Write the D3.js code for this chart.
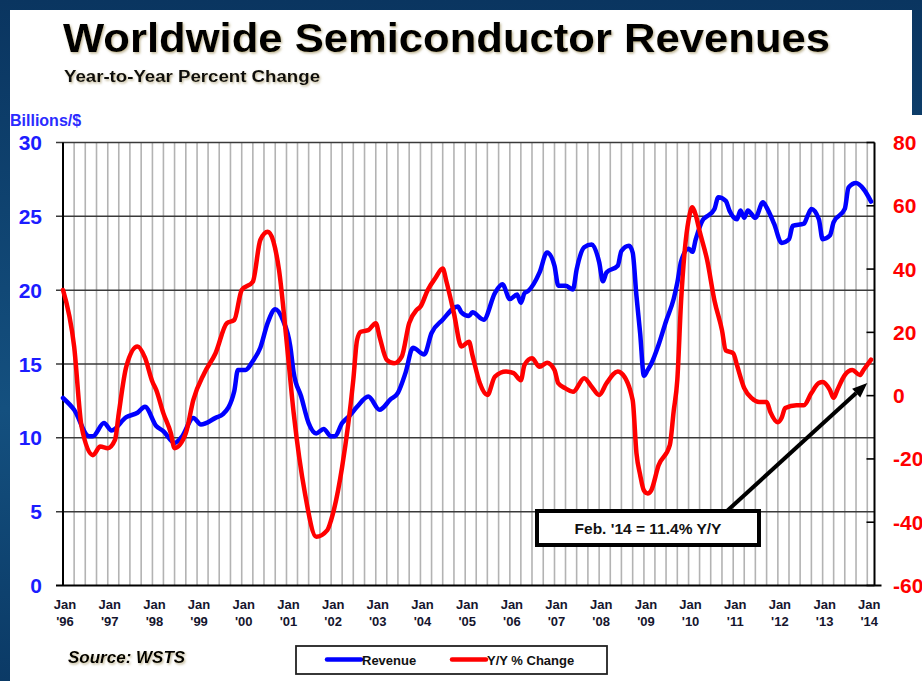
<!DOCTYPE html>
<html><head><meta charset="utf-8">
<script src="https://cdn.jsdelivr.net/npm/d3@7/dist/d3.min.js"></script>
<style>html,body{margin:0;padding:0;background:#fff}svg{display:block;font-family:"Liberation Sans",Arial,sans-serif}</style>
</head><body>
<svg id="chart" width="922" height="681"></svg>
<script>
// ---------- DATA ----------
const title = "Worldwide Semiconductor Revenues";
const subtitle = "Year-to-Year Percent Change";
const leftAxisTitle = "Billions/$";
const sourceText = "Source: WSTS";
const annotationText = "Feb. '14 = 11.4% Y/Y";
const seriesNames = ["Revenue", "Y/Y % Change"];
const leftTicks = [0, 5, 10, 15, 20, 25, 30];
const rightTicks = [-60, -40, -20, 0, 20, 40, 60, 80];
const yearLabels = ["'96","'97","'98","'99","'00","'01","'02","'03","'04","'05","'06","'07","'08","'09","'10","'11","'12","'13","'14"];

// Revenue (billions $), month index from Jan 1996 = 0
const revenueMonths = [0,3,7,8,11,13,17,20,22,25,27,30,32,35,37,41,43,46,47,49,51,53,55,57,59,61,62,64,66,68,70,72,73,75,77,79,82,85,88,90,92,94,97,99,102,106,107,109,110,113,116,118,120,122,123,124,125,128,130,132,133,135,137,138,140,142,144,145,146,149,150,152,153,154,155,156,157,158,160,162,164,165,166,168,169,170,172,173,175,176,178,179,181,182,183,184,186,188,189,191,193,195,196,199,200,201,203,204,206,207,210,211,213,215,217];
const revenueValues = [12.7,11.9,10.1,10.1,11.0,10.5,11.4,11.7,12.1,10.8,10.45,9.65,10.1,11.35,10.9,11.35,11.6,13.15,14.6,14.6,15.2,16.1,17.8,18.7,18.0,16.2,14.4,12.8,11.0,10.3,10.6,10.1,10.1,11.0,11.5,12.1,12.8,11.9,12.6,13.05,14.4,16.1,15.65,17.1,18.0,18.9,18.5,18.25,18.5,18.0,19.8,20.4,19.4,19.7,19.15,19.8,19.95,21.2,22.55,21.65,20.3,20.3,20.05,21.4,22.9,23.1,21.9,20.6,21.2,21.65,22.65,23.0,22.55,19.6,17.1,14.2,14.6,15.0,16.3,17.9,19.4,20.5,21.95,22.8,22.6,23.45,24.8,25.0,25.5,26.3,26.05,25.4,24.8,25.4,24.9,25.4,24.9,25.95,25.6,24.5,23.2,23.45,24.35,24.5,25.05,25.5,24.8,23.45,23.7,24.6,25.5,26.95,27.25,26.85,26.0];

// Y/Y % change
const yoyMonths = [0,3,5,8,10,12,14,15,17,20,22,24,25,27,29,30,33,35,38,41,44,46,48,51,53,55,58,60,62,65,68,71,72,75,78,79,80,82,84,85,87,89,91,93,95,96,98,100,102,103,105,107,109,110,112,114,116,119,121,123,124,126,128,130,132,133,135,137,140,142,144,146,149,150,153,154,155,156,157,158,160,163,164,165,166,167,168,169,170,171,173,175,177,178,180,181,183,185,187,189,190,192,193,194,197,199,201,203,204,206,207,208,210,212,214,215,217];
const yoyValues = [33.4,15.5,-9.8,-18.8,-16.1,-16.6,-14.0,-5.6,9.1,15.5,12.0,4.4,1.8,-5.6,-11.9,-16.6,-11.9,-1.4,7.1,13.4,22.9,23.9,33.4,36.0,49.2,51.8,39.7,17.6,-5.6,-30.9,-44.6,-42.5,-39.3,-22.5,4.9,17.6,20.2,20.7,22.9,18.6,11.3,10.2,12.3,22.9,27.1,28.1,33.4,37.1,40.2,36.0,26.0,15.5,17.0,12.8,3.9,0.2,6.0,7.6,7.1,4.9,9.7,11.8,9.1,10.4,8.1,3.9,2.3,1.2,5.5,2.8,0.2,3.9,7.6,7.1,-1.4,-18.2,-25.0,-30.0,-30.9,-30.0,-22.0,-15.6,-5.0,5.0,30.0,46.0,55.5,59.5,57.0,52.0,43.0,30.0,20.7,14.3,13.4,9.6,2.4,-0.8,-2.0,-2.0,-5.2,-8.4,-7.0,-3.9,-3.0,-3.0,0.8,4.0,4.3,1.8,-0.7,1.8,6.5,8.1,6.5,8.1,11.4];
const annotationTarget = {month: 216, value: 4};

// ---------- LAYOUT ----------
const svg = d3.select("#chart");
const L = 63, R = 874.5, T = 142.5, B = 585.5;
const monthDate = m => new Date(1996 + Math.floor(m / 12), m % 12, 1);

const x = d3.scaleTime().domain([monthDate(0), monthDate(218)]).range([L, R]);
const yL = d3.scaleLinear().domain([0, 30]).range([B, T]);
const yR = d3.scaleLinear().domain([-60, 80]).range([B, T]);

// background
const defs = svg.append("defs");
const g1 = defs.append("linearGradient").attr("id","bg").attr("x1","0").attr("y1","0").attr("x2","0").attr("y2","1");
g1.append("stop").attr("offset","0").attr("stop-color","#0a3560");
g1.append("stop").attr("offset","0.6").attr("stop-color","#14507f");
g1.append("stop").attr("offset","1").attr("stop-color","#0b3a66");
const sh = defs.append("filter").attr("id","shadow").attr("x","-5%").attr("y","-20%").attr("width","110%").attr("height","150%");
sh.append("feDropShadow").attr("dx",1.2).attr("dy",1.5).attr("stdDeviation",0.9).attr("flood-color","#8a7a40").attr("flood-opacity",0.55);

svg.append("rect").attr("width",922).attr("height",681).attr("fill","url(#bg)");
svg.append("rect").attr("x",10).attr("y",10).attr("width",902).attr("height",671).attr("fill","#fff");
svg.append("rect").attr("x",10).attr("y",115).attr("width",912).attr("height",566).attr("fill","#fff");

// title
svg.append("text").attr("x",63).attr("y",52).attr("font-size",41).attr("font-weight","bold")
  .attr("textLength",767).attr("lengthAdjust","spacingAndGlyphs").attr("fill","#000")
  .attr("filter","url(#shadow)").text(title);
svg.append("text").attr("x",64).attr("y",82).attr("font-size",16).attr("font-weight","bold")
  .attr("textLength",256).attr("lengthAdjust","spacingAndGlyphs").attr("fill","#111")
  .attr("filter","url(#shadow)").text(subtitle);
svg.append("text").attr("x",10).attr("y",126).attr("font-size",16).attr("font-weight","bold")
  .attr("fill","#2b2bff").text(leftAxisTitle);

// vertical quarterly gridlines
const quarters = d3.range(3, 217, 3);
svg.append("g").selectAll("line").data(quarters).join("line")
  .attr("x1", m => x(monthDate(m))).attr("x2", m => x(monthDate(m)))
  .attr("y1", T).attr("y2", B).attr("stroke","#b3b3b3").attr("stroke-width",1.6);

// horizontal gridlines (left scale)
svg.append("g").selectAll("line").data(leftTicks.filter(d => d > 0)).join("line")
  .attr("x1", L - 7).attr("x2", R).attr("y1", d => yL(d)).attr("y2", d => yL(d))
  .attr("stroke","#3a3a3a").attr("stroke-width",1.5);

// axes lines
svg.append("line").attr("x1",L).attr("x2",L).attr("y1",T).attr("y2",B).attr("stroke","#000").attr("stroke-width",2);
svg.append("line").attr("x1",R).attr("x2",R).attr("y1",T).attr("y2",B).attr("stroke","#000").attr("stroke-width",2);
svg.append("line").attr("x1",L-7).attr("x2",R+7).attr("y1",B).attr("y2",B).attr("stroke","#000").attr("stroke-width",2);

// right ticks
svg.append("g").selectAll("line").data(rightTicks).join("line")
  .attr("x1", R - 8).attr("x2", R).attr("y1", d => yR(d)).attr("y2", d => yR(d))
  .attr("stroke","#000").attr("stroke-width",1.6);

// left tick labels
svg.append("g").selectAll("text").data(leftTicks).join("text")
  .attr("x", 42).attr("y", d => yL(d) + 7.5).attr("text-anchor","end")
  .attr("font-size",21).attr("font-weight","bold").attr("fill","#1c1cff").text(d => d);
// right tick labels
svg.append("g").selectAll("text").data(rightTicks).join("text")
  .attr("x", 893).attr("y", d => yR(d) + 7.5).attr("text-anchor","start")
  .attr("font-size",21).attr("font-weight","bold").attr("fill","#ff0000").text(d => d);

// x labels
const xl = svg.append("g").selectAll("g").data(yearLabels).join("g")
  .attr("transform", (d,i) => `translate(${x(monthDate(i*12)) + 2},0)`);
xl.append("text").attr("y",609).attr("text-anchor","middle").attr("font-size",13).attr("font-weight","bold").attr("fill","#15152e").text("Jan");
xl.append("text").attr("y",626).attr("text-anchor","middle").attr("font-size",13).attr("font-weight","bold").attr("fill","#15152e").text(d => d);

// lines
const revData = revenueMonths.map((m,i) => ({m, v: revenueValues[i]}));
const yoyData = yoyMonths.map((m,i) => ({m, v: yoyValues[i]}));
svg.append("path").datum(revData)
  .attr("d", d3.line().x(d => x(monthDate(d.m))).y(d => yL(d.v)).curve(d3.curveMonotoneX))
  .attr("fill","none").attr("stroke","#0000ff").attr("stroke-width",4.5).attr("stroke-linejoin","round").attr("stroke-linecap","round");
svg.append("path").datum(yoyData)
  .attr("d", d3.line().x(d => x(monthDate(d.m))).y(d => yR(d.v)).curve(d3.curveMonotoneX))
  .attr("fill","none").attr("stroke","#ff0000").attr("stroke-width",4.5).attr("stroke-linejoin","round").attr("stroke-linecap","round");

// annotation arrow
const ax0 = 727, ay0 = 511;
const ax1 = x(monthDate(annotationTarget.month)), ay1 = yR(annotationTarget.value);
const ang = Math.atan2(ay1 - ay0, ax1 - ax0);
const hl = 15, hw = 6;
const bx = ax1 - hl*Math.cos(ang), by = ay1 - hl*Math.sin(ang);
svg.append("line").attr("x1",ax0).attr("y1",ay0).attr("x2",bx).attr("y2",by).attr("stroke","#000").attr("stroke-width",4);
svg.append("path").attr("d", `M${ax1},${ay1}L${bx - hw*Math.sin(ang)},${by + hw*Math.cos(ang)}L${bx + hw*Math.sin(ang)},${by - hw*Math.cos(ang)}Z`).attr("fill","#000");

svg.append("rect").attr("x",537).attr("y",511).attr("width",222).attr("height",34)
  .attr("fill","#fff").attr("stroke","#000").attr("stroke-width",4);
svg.append("text").attr("x",648).attr("y",534).attr("text-anchor","middle").attr("font-size",15.5).attr("font-weight","bold").attr("fill","#111").text(annotationText);

// source
svg.append("text").attr("x",68).attr("y",663).attr("font-size",17).attr("font-weight","bold").attr("font-style","italic")
  .attr("fill","#000").attr("filter","url(#shadow)").text(sourceText);

// legend
svg.append("rect").attr("x",296).attr("y",646).attr("width",311).attr("height",28).attr("fill","#fff").attr("stroke","#222").attr("stroke-width",1.8);
const legColors = ["#0000ff","#ff0000"];
const legX = [327, 452];
const lg = svg.append("g").selectAll("g").data(seriesNames).join("g").attr("transform",(d,i)=>`translate(${legX[i]},659.5)`);
lg.append("line").attr("x1",0).attr("x2",34).attr("stroke",(d,i)=>legColors[i]).attr("stroke-width",4.5).attr("stroke-linecap","round");
lg.append("text").attr("x",35).attr("y",5).attr("font-size",13).attr("font-weight","bold").attr("fill","#111").text(d=>d);
</script>
</body></html>
